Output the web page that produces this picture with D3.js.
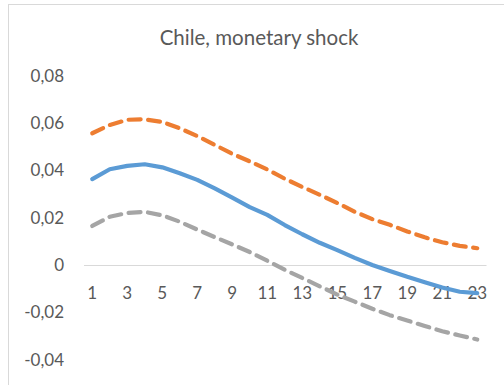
<!DOCTYPE html>
<html>
<head>
<meta charset="utf-8">
<script src="https://cdn.jsdelivr.net/npm/d3@7"></script>
<style>
	body { margin: 0; background: #fff; }
	svg { display: block; font-family: "Lato", "Liberation Sans", sans-serif; }
	.tick text { fill: #595959; font-size: 17px; }
</style>
</head>
<body>
<script>
// Periods on the x axis
const periods = d3.range(1, 24);
const xTickLabels = [1, 3, 5, 7, 9, 11, 13, 15, 17, 19, 21, 23];
const yTickValues = [-0.04, -0.02, 0, 0.02, 0.04, 0.06, 0.08];

// Impulse response (solid) and its bands (dashed)
const response = [0.0363, 0.0405, 0.0419, 0.0426, 0.0413, 0.0388, 0.0360, 0.0324, 0.0285, 0.0245,
	0.0212, 0.0169, 0.0130, 0.0094, 0.0063, 0.0030, 0.0000, -0.0025, -0.0050, -0.0073,
	-0.0095, -0.0113, -0.0119];
const upper = [0.0557, 0.0592, 0.0614, 0.0616, 0.0605, 0.0578, 0.0545, 0.0508, 0.0470, 0.0438,
	0.0404, 0.0365, 0.0330, 0.0297, 0.0262, 0.0225, 0.0194, 0.0170, 0.0142, 0.0117,
	0.0096, 0.0081, 0.0071];
const lower = [0.0165, 0.0204, 0.0220, 0.0225, 0.0210, 0.0183, 0.0150, 0.0118, 0.0087, 0.0055,
	0.0018, -0.0020, -0.0055, -0.0090, -0.0125, -0.0155, -0.0185, -0.0212, -0.0235, -0.0258,
	-0.0280, -0.0298, -0.0315];

const width = 504, height = 385;

const svg = d3.select("body")
	.append("svg")
	.attr("width", width)
	.attr("height", height);

// Chart frame (runs off the right and bottom edge)
svg.append("rect")
	.attr("x", 8.5)
	.attr("y", 4.5)
	.attr("width", 520)
	.attr("height", 400)
	.attr("fill", "#fff")
	.attr("stroke", "#d9d9d9");

// Title
svg.append("text")
	.attr("x", 259)
	.attr("y", 45)
	.attr("text-anchor", "middle")
	.attr("fill", "#595959")
	.style("font-size", "20.5px")
	.text("Chile, monetary shock");

// Scales
const x = d3.scaleBand()
	.domain(periods)
	.range([83.5, 486]);

const y = d3.scaleLinear()
	.domain([-0.04, 0.08])
	.range([359.6, 75.8]);

const locale = d3.formatLocale({decimal: ",", thousands: ".", grouping: [3], currency: ["", ""], minus: "-"});
const fmt = locale.format(".2f");

// Y axis labels
svg.append("g")
	.attr("transform", "translate(83.5,0)")
	.call(d3.axisLeft(y)
		.tickValues(yTickValues)
		.tickSize(0)
		.tickPadding(19.5)
		.tickFormat(function(d) { return d === 0 ? "0" : fmt(d); }))
	.call(function(g) { g.select(".domain").remove(); })
	.selectAll("text")
	.style("font-family", "Lato, 'Liberation Sans', sans-serif");

// X axis on the zero line
svg.append("g")
	.attr("transform", "translate(0," + y(0) + ")")
	.call(d3.axisBottom(x)
		.tickValues(xTickLabels)
		.tickSize(0)
		.tickPadding(22))
	.call(function(g) {
		g.select(".domain").attr("stroke", "#d9d9d9").attr("stroke-width", 1.2);
	})
	.selectAll("text")
	.style("font-family", "Lato, 'Liberation Sans', sans-serif");

// Lines
const line = d3.line()
	.x(function(d, i) { return x(periods[i]) + x.bandwidth() / 2; })
	.y(function(d) { return y(d); });

const series = [
	{values: upper, color: "#ed7d31", dash: "12,7.5"},
	{values: lower, color: "#a5a5a5", dash: "12,7.5"},
	{values: response, color: "#5b9bd5", dash: null}
];

svg.selectAll("path.series")
	.data(series)
	.enter()
	.append("path")
	.attr("class", "series")
	.attr("d", function(d) { return line(d.values); })
	.attr("fill", "none")
	.attr("stroke", function(d) { return d.color; })
	.attr("stroke-width", 4.2)
	.attr("stroke-linejoin", "round")
	.attr("stroke-linecap", "round")
	.attr("stroke-dasharray", function(d) { return d.dash; });
</script>
</body>
</html>
